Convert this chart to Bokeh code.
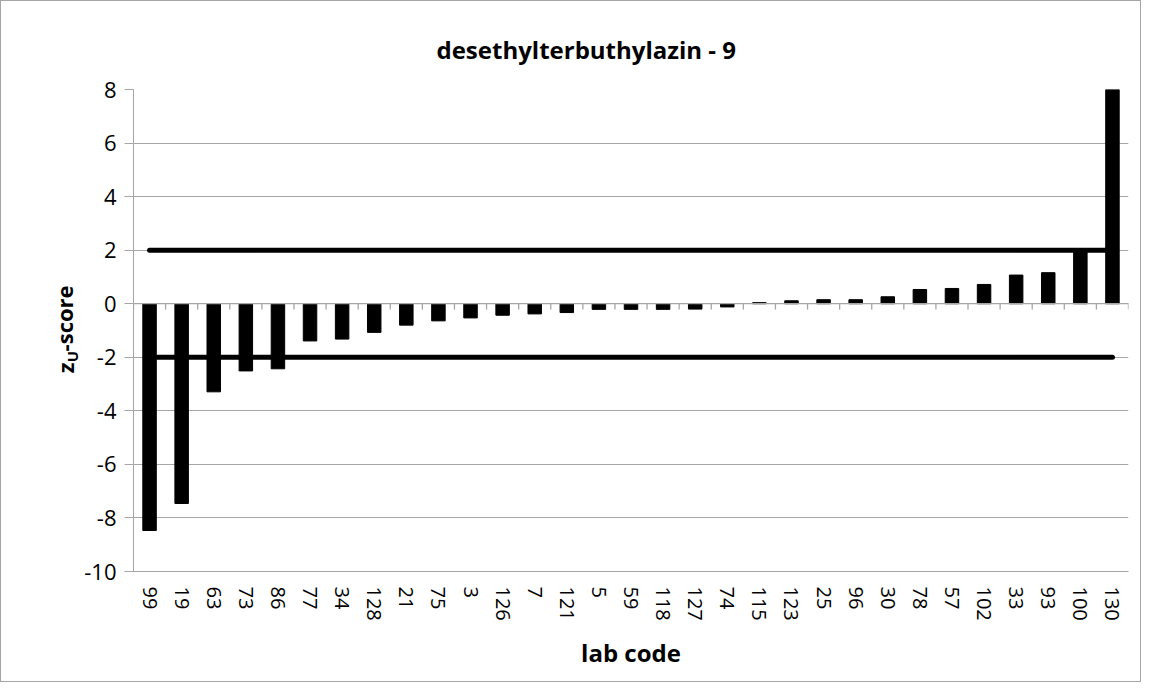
import math
from bokeh.plotting import figure
from bokeh.models import Range1d, FactorRange, FixedTicker, Span, Label, ColumnDataSource
from bokeh.embed import file_html
from bokeh.resources import INLINE

# ---- data ----
codes = ["99", "19", "63", "73", "86", "77", "34", "128", "21", "75", "3", "126",
         "7", "121", "5", "59", "118", "127", "74", "115", "123", "25", "96", "30",
         "78", "57", "102", "33", "93", "100", "130"]
z_scores = [-8.47, -7.46, -3.29, -2.51, -2.43, -1.39, -1.32, -1.07, -0.80, -0.64,
            -0.53, -0.43, -0.38, -0.33, -0.21, -0.21, -0.21, -0.20, -0.12, 0.04,
            0.11, 0.15, 0.15, 0.26, 0.53, 0.57, 0.72, 1.07, 1.16, 1.98, 9.5]
limit_upper = 2
limit_lower = -2
y_ticks = [-10, -8, -6, -4, -2, 0, 2, 4, 6, 8]
y_tick_labels = ["-10", "-8", "-6", "-4", "-2", "0", "2", "4", "6", "8"]
title_text = "desethylterbuthylazin - 9"
x_title = "lab code"
y_title_parts = ["z", "U", "-score"]

FONT = "Open Sans"
GRAY = "#a6a6a6"

p = figure(width=1141, height=682,
           x_range=FactorRange(*codes), y_range=Range1d(y_ticks[0], y_ticks[-1]),
           output_backend="svg", toolbar_location=None,
           min_border_left=130, min_border_right=14,
           min_border_top=88, min_border_bottom=112)
p.outline_line_color = None
p.styles = {"border": "1px solid #a6a6a6"}

# title
p.title.text = title_text
p.title.text_font = FONT
p.title.text_font_style = "bold"
p.title.text_font_size = "24px"
p.title.text_color = "black"
p.title.align = "left"
p.title.offset = 303
p.title.standoff = 47

# grid
p.xgrid.visible = False
p.ygrid.ticker = FixedTicker(ticks=y_ticks)
p.ygrid.grid_line_color = GRAY
p.ygrid.grid_line_width = 1

# y axis
p.yaxis.ticker = FixedTicker(ticks=y_ticks)
p.yaxis.major_label_overrides = {t: s for t, s in zip(y_ticks, y_tick_labels)}
p.yaxis.axis_line_color = GRAY
p.yaxis.major_tick_line_color = GRAY
p.yaxis.major_tick_out = 9
p.yaxis.major_tick_in = 0
p.yaxis.minor_tick_line_color = None
p.yaxis.major_label_text_font = FONT
p.yaxis.major_label_text_font_size = "22px"
p.yaxis.major_label_text_color = "black"
p.yaxis.major_label_standoff = 8

# x axis
p.xaxis.axis_line_color = GRAY
p.xaxis.major_tick_line_color = None
p.xaxis.major_tick_out = 0
p.xaxis.major_tick_in = 0
p.xaxis.major_label_orientation = "vertical"
p.xaxis.major_label_text_font = FONT
p.xaxis.major_label_text_font_size = "20px"
p.xaxis.major_label_text_color = "black"
p.xaxis.major_label_standoff = 15
p.xaxis.axis_label = x_title
p.xaxis.axis_label_text_font = FONT
p.xaxis.axis_label_text_font_style = "bold"
p.xaxis.axis_label_text_font_size = "24px"
p.xaxis.axis_label_text_color = "black"
p.xaxis.axis_label_standoff = 12

# zero axis line with category boundary ticks
p.add_layout(Span(location=0, dimension="width", line_color=GRAY, line_width=1.3))
tick_x = [(c, -0.5) for c in codes] + [(codes[-1], 0.5)]
p.segment(x0=tick_x, y0=[0] * len(tick_x), x1=tick_x, y1=[-0.22] * len(tick_x),
          line_color=GRAY, line_width=1.3)

# bars
src = ColumnDataSource(dict(code=codes, z=z_scores))
p.vbar(x="code", top="z", width=0.42, source=src, fill_color="black", line_color="black")

# limit lines
p.line(x=[codes[0], codes[-1]], y=[limit_upper, limit_upper], line_width=5,
       line_color="black", line_cap="round")
p.line(x=[codes[0], codes[-1]], y=[limit_lower, limit_lower], line_width=5,
       line_color="black", line_cap="round")

# y title: z_U-score, rotated, placed in the left panel so it is not clipped
rot = math.pi / 2
def ylab(x, y, text, size):
    return Label(x=x, y=y, x_units="screen", y_units="data", text=text,
                 angle=rot, text_font=FONT, text_font_style="bold",
                 text_font_size=size, text_align="left", text_baseline="alphabetic",
                 text_color="black")

p.add_layout(ylab(13, -2.60, y_title_parts[0], "22px"), "left")
p.add_layout(ylab(40, -2.19, y_title_parts[1], "15px"), "left")
p.add_layout(ylab(62, -1.78, y_title_parts[2], "22px"), "left")

open("out.html", "w").write(file_html(p, INLINE))
